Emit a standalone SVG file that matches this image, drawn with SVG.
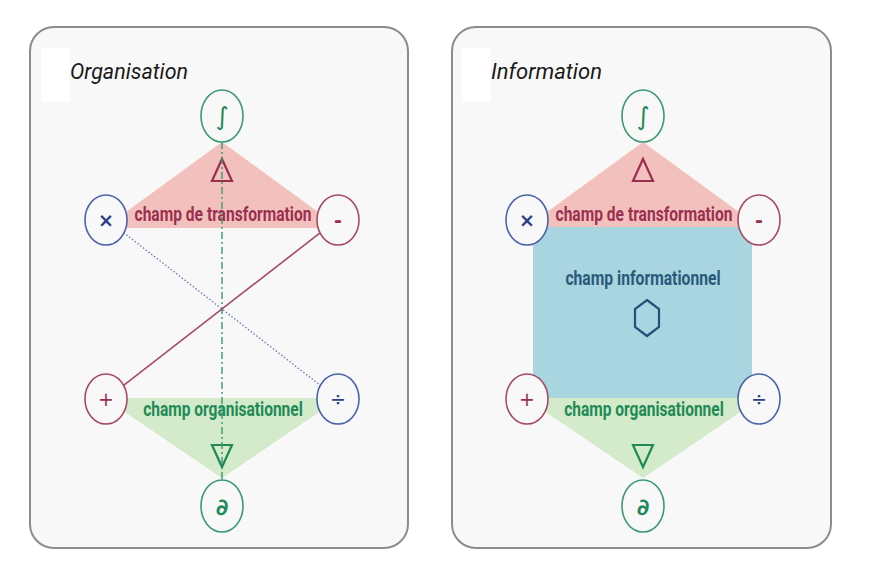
<svg xmlns="http://www.w3.org/2000/svg" width="869" height="561" viewBox="0 0 869 561">
<style>
.panel{fill:#f8f8f8;stroke:#8c8c8c;stroke-width:2}
.patch{fill:#ffffff}
.title{font-family:Roboto,"Liberation Sans",sans-serif;font-style:italic;font-size:22px;fill:#1a1a1a}
.pink{fill:#f3c1bd}
.green{fill:#d3eacb}
.blue{fill:#a8d5df}
.lbl{font-family:Roboto,"Liberation Sans",sans-serif;font-weight:bold;font-size:20px;text-anchor:middle}
.lr{fill:#9b2f4f}
.lg{fill:#1f8a55}
.lb{fill:#285a7c}
.node{fill:#f8f8f8;stroke-width:1.6}
.ng{stroke:#3a9a70}
.nb{stroke:#4a62a8}
.nr{stroke:#a64a63}
.sym{font-family:"DejaVu Sans",sans-serif;text-anchor:middle}
.tri{fill:none;stroke-width:2.2;stroke-linejoin:miter}
.dashdot{stroke:#3a9a6e;stroke-width:1.4;stroke-dasharray:7 3 2 3;fill:none}
.dotted{stroke:#6c80b4;stroke-width:1.4;stroke-dasharray:1.5 2;fill:none}
.solid{stroke:#a64a63;stroke-width:1.6;fill:none}
</style>

<rect width="869" height="561" fill="#ffffff"/>

<!-- Left panel: Organisation -->
<g id="panel-organisation">
  <rect class="panel" x="30" y="27" width="378" height="521" rx="24"/>
  <rect class="patch" x="41" y="48" width="29" height="54"/>
  <text class="title" x="70" y="79" textLength="118" lengthAdjust="spacingAndGlyphs">Organisation</text>
</g>
<g id="org-fields">
  <polygon id="org-champ-transformation-field" class="pink" points="222,142 104,228 340,228"/>
  <polygon id="org-champ-organisationnel-field" class="green" points="104,398 340,398 222,478"/>
</g>
<g id="org-labels">
  <text class="lbl lr" transform="translate(223,221) scale(0.79,1)" x="0" y="0" textLength="224" lengthAdjust="spacingAndGlyphs">champ de transformation</text>
  <text class="lbl lg" transform="translate(223,416) scale(0.79,1)" x="0" y="0" textLength="202" lengthAdjust="spacingAndGlyphs">champ organisationnel</text>
  <polygon class="tri" stroke="#9b2f4f" points="222,159 212,181 232,181"/>
  <polygon class="tri" stroke="#1f8a55" points="212,445 232,445 222,467"/>
</g>
<g id="org-connectors">
  <line class="dashdot" x1="222" y1="142" x2="222" y2="480"/>
  <line class="dotted" x1="123.6" y1="232.6" x2="320.4" y2="385.4"/>
  <line class="solid" x1="320.4" y1="232.6" x2="123.6" y2="385.4"/>
</g>
<g id="org-node-integral">
  <ellipse class="node ng" cx="222" cy="116" rx="21" ry="26"/>
  <text class="sym" x="222" y="125" font-size="25" fill="#1f8a5a">∫</text>
</g>
<g id="org-node-times">
  <ellipse class="node nb" cx="106" cy="220" rx="21" ry="25"/>
  <text class="sym" x="106" y="227" font-size="19" font-weight="bold" fill="#2b3f86">×</text>
</g>
<g id="org-node-minus">
  <ellipse class="node nr" cx="338" cy="220" rx="21" ry="25"/>
  <text class="sym" x="338" y="227" font-size="19" font-weight="bold" fill="#9b2f4f">-</text>
</g>
<g id="org-node-plus">
  <ellipse class="node nr" cx="106" cy="399" rx="21" ry="25"/>
  <text class="sym" x="106" y="406" font-size="19" fill="#9b2f4f">+</text>
</g>
<g id="org-node-divide">
  <ellipse class="node nb" cx="338" cy="399" rx="21" ry="25"/>
  <text class="sym" x="338" y="406" font-size="19" fill="#2b3f86">÷</text>
</g>
<g id="org-node-partial">
  <ellipse class="node ng" cx="222" cy="506" rx="21" ry="26"/>
  <text class="sym" x="222" y="515" font-size="23" font-weight="bold" fill="#1f8a5a">∂</text>
</g>

<!-- Right panel: Information -->
<g id="panel-information">
  <rect class="panel" x="452" y="27" width="379" height="521" rx="24"/>
  <rect class="patch" x="462" y="48" width="29" height="54"/>
  <text class="title" x="491" y="79" textLength="111" lengthAdjust="spacingAndGlyphs">Information</text>
</g>
<g id="inf-fields">
  <polygon id="inf-champ-transformation-field" class="pink" points="643,142 525,228 761,228"/>
  <polygon id="inf-champ-organisationnel-field" class="green" points="525,398 761,398 643,478"/>
  <rect id="inf-champ-informationnel-field" class="blue" x="533" y="227" width="219" height="171"/>
</g>
<g id="inf-labels">
  <text class="lbl lr" transform="translate(644,221) scale(0.79,1)" x="0" y="0" textLength="224" lengthAdjust="spacingAndGlyphs">champ de transformation</text>
  <text class="lbl lg" transform="translate(644,416) scale(0.79,1)" x="0" y="0" textLength="202" lengthAdjust="spacingAndGlyphs">champ organisationnel</text>
  <text class="lbl lb" transform="translate(643,285) scale(0.8,1)" x="0" y="0" textLength="194" lengthAdjust="spacingAndGlyphs">champ informationnel</text>
  <polygon class="tri" stroke="#9b2f4f" points="643,159 633,181 653,181"/>
  <polygon class="tri" stroke="#1f8a55" points="633,445 653,445 643,467"/>
  <polygon class="tri" stroke="#22507a" stroke-width="3" points="647,300 659,309 659,327 647,336 635,327 635,309"/>
</g>
<g id="inf-node-integral">
  <ellipse class="node ng" cx="643" cy="116" rx="21" ry="26"/>
  <text class="sym" x="643" y="125" font-size="25" fill="#1f8a5a">∫</text>
</g>
<g id="inf-node-times">
  <ellipse class="node nb" cx="527" cy="220" rx="21" ry="25"/>
  <text class="sym" x="527" y="227" font-size="19" font-weight="bold" fill="#2b3f86">×</text>
</g>
<g id="inf-node-minus">
  <ellipse class="node nr" cx="759" cy="220" rx="21" ry="25"/>
  <text class="sym" x="759" y="227" font-size="19" font-weight="bold" fill="#9b2f4f">-</text>
</g>
<g id="inf-node-plus">
  <ellipse class="node nr" cx="527" cy="399" rx="21" ry="25"/>
  <text class="sym" x="527" y="406" font-size="19" fill="#9b2f4f">+</text>
</g>
<g id="inf-node-divide">
  <ellipse class="node nb" cx="759" cy="399" rx="21" ry="25"/>
  <text class="sym" x="759" y="406" font-size="19" fill="#2b3f86">÷</text>
</g>
<g id="inf-node-partial">
  <ellipse class="node ng" cx="643" cy="506" rx="21" ry="26"/>
  <text class="sym" x="643" y="515" font-size="23" font-weight="bold" fill="#1f8a5a">∂</text>
</g>
</svg>
